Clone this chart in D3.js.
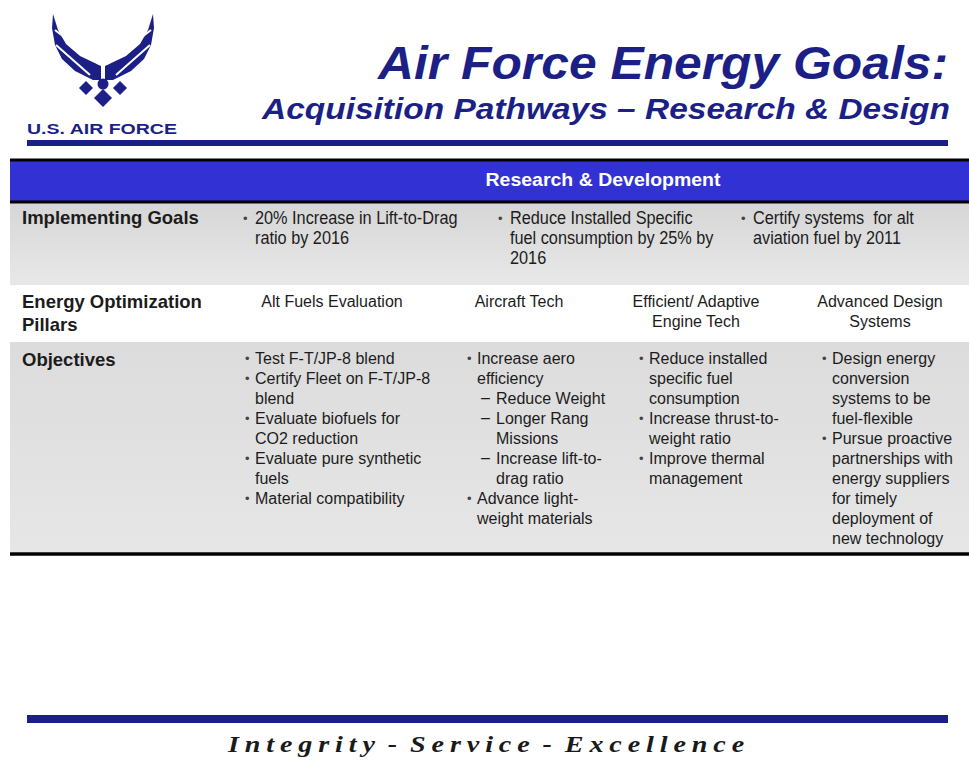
<!DOCTYPE html>
<html>
<head>
<meta charset="utf-8">
<title>Air Force Energy Goals</title>
<style type="text/css">
  body { margin: 0; background: white; }
  svg text { font-family: "Liberation Sans", Arial, sans-serif; white-space: pre; }
</style>
</head>
<body>
<div class="container"></div>
<script src="https://d3js.org/d3.v7.min.js"></script>
<script type="text/javascript">
var wd = 969, ht = 761

// ---- slide content ----
var title = "Air Force Energy Goals:"
var subtitle = "Acquisition Pathways \u2013 Research & Design"
var headerText = "Research & Development"
var rowLabels = [["Implementing Goals"], ["Energy Optimization", "Pillars"], ["Objectives"]]
var goals = [
  ["20% Increase in Lift-to-Drag", "ratio by 2016"],
  ["Reduce Installed Specific", "fuel consumption by 25% by", "2016"],
  ["Certify systems  for alt", "aviation fuel by 2011"]
]
var pillars = [["Alt Fuels Evaluation"], ["Aircraft Tech"], ["Efficient/ Adaptive", "Engine Tech"], ["Advanced Design", "Systems"]]
var objectives = [
  [ {lvl: 1, lines: ["Test F-T/JP-8 blend"]},
    {lvl: 1, lines: ["Certify Fleet on F-T/JP-8", "blend"]},
    {lvl: 1, lines: ["Evaluate biofuels for", "CO2 reduction"]},
    {lvl: 1, lines: ["Evaluate pure synthetic", "fuels"]},
    {lvl: 1, lines: ["Material compatibility"]} ],
  [ {lvl: 1, lines: ["Increase aero", "efficiency"]},
    {lvl: 2, lines: ["Reduce Weight"]},
    {lvl: 2, lines: ["Longer Rang", "Missions"]},
    {lvl: 2, lines: ["Increase lift-to-", "drag ratio"]},
    {lvl: 1, lines: ["Advance light-", "weight materials"]} ],
  [ {lvl: 1, lines: ["Reduce installed", "specific fuel", "consumption"]},
    {lvl: 1, lines: ["Increase thrust-to-", "weight ratio"]},
    {lvl: 1, lines: ["Improve thermal", "management"]} ],
  [ {lvl: 1, lines: ["Design energy", "conversion", "systems to be", "fuel-flexible"]},
    {lvl: 1, lines: ["Pursue proactive", "partnerships with", "energy suppliers", "for timely", "deployment of", "new technology"]} ]
]
var motto = "Integrity - Service - Excellence"
var logoText = "U.S. AIR FORCE"

var navy = "#1b1f86", band = "#3232d4", ink = "#1c1c1c"

var svgCont = d3.select(".container").append("svg")
  .attr("width", wd).attr("height", ht)

svgCont.append("rect").attr("width", wd).attr("height", ht).attr("fill", "white")

var defs = svgCont.append("defs")
function grad(id, c1, c2) {
  var g = defs.append("linearGradient").attr("id", id).attr("x1", 0).attr("y1", 0).attr("x2", 0).attr("y2", 1)
  g.append("stop").attr("offset", "0%").attr("stop-color", c1)
  g.append("stop").attr("offset", "100%").attr("stop-color", c2)
}
grad("g1", "#d6d6d6", "#e8e8e8")
grad("g3", "#dcdcdc", "#e6e6e6")

// line height scale (line index -> offset)
var lineY = d3.scaleLinear().domain([0, 1]).range([0, 20])

// ---- logo ----
var logo = svgCont.append("g")
var wingL = [[53,14],[58,30],[66,44],[80,56],[101,66],[101,80],[93,80],[75,71],[62,59],[55,45],[52,28]]
var mirror = function(p) { return [206 - p[0], p[1]] }
logo.append("path").attr("d", d3.line()(wingL) + "Z").attr("fill", navy)
logo.append("path").attr("d", d3.line()(wingL.map(mirror)) + "Z").attr("fill", navy)
var stripes = [[[55,30],[99,64]], [[56,45],[90,75]]]
stripes.forEach(function(s) {
  logo.append("path").attr("d", d3.line()(s)).attr("stroke", "white").attr("stroke-width", 2)
  logo.append("path").attr("d", d3.line()(s.map(mirror))).attr("stroke", "white").attr("stroke-width", 2)
})
function diamond(cx, cy, r) {
  return d3.line()([[cx, cy - r], [cx + r, cy], [cx, cy + r], [cx - r, cy]]) + "Z"
}
logo.append("path").attr("d", diamond(86, 88, 7)).attr("fill", navy)
logo.append("path").attr("d", diamond(120, 88, 7)).attr("fill", navy)
logo.append("circle").attr("cx", 103).attr("cy", 84).attr("r", 5.5).attr("fill", navy)
logo.append("path").attr("d", diamond(103, 98, 9)).attr("fill", navy)
logo.append("text").attr("x", 27).attr("y", 134).text(logoText)
  .attr("fill", navy).style("font-weight", "bold").style("font-size", "14px")
  .attr("textLength", 150).attr("lengthAdjust", "spacingAndGlyphs")

// ---- titles ----
svgCont.append("text").attr("x", 948).attr("y", 79).text(title)
  .attr("text-anchor", "end").attr("fill", navy)
  .style("font-weight", "bold").style("font-style", "italic").style("font-size", "46px")
  .attr("textLength", 570).attr("lengthAdjust", "spacingAndGlyphs")
svgCont.append("text").attr("x", 950).attr("y", 119).text(subtitle)
  .attr("text-anchor", "end").attr("fill", navy)
  .style("font-weight", "bold").style("font-style", "italic").style("font-size", "30px")
  .attr("textLength", 688).attr("lengthAdjust", "spacingAndGlyphs")

svgCont.append("rect").attr("x", 27).attr("y", 140).attr("width", 921).attr("height", 6).attr("fill", navy)

// ---- table ----
var tx0 = 10, tx1 = wd
svgCont.append("rect").attr("x", tx0).attr("y", 203).attr("width", tx1 - tx0).attr("height", 82).attr("fill", "url(#g1)")
svgCont.append("rect").attr("x", tx0).attr("y", 342).attr("width", tx1 - tx0).attr("height", 210).attr("fill", "url(#g3)")

svgCont.append("rect").attr("x", tx0).attr("y", 159).attr("width", tx1 - tx0).attr("height", 44).attr("fill", band)
svgCont.append("line").attr("x1", tx0).attr("x2", tx1).attr("y1", 160).attr("y2", 160).attr("stroke", "black").attr("stroke-width", 3)
svgCont.append("line").attr("x1", tx0).attr("x2", tx1).attr("y1", 202).attr("y2", 202).attr("stroke", "black").attr("stroke-width", 3)
svgCont.append("line").attr("x1", tx0).attr("x2", tx1).attr("y1", 554).attr("y2", 554).attr("stroke", "black").attr("stroke-width", 3.5)

svgCont.append("text").attr("x", 603).attr("y", 186).text(headerText)
  .attr("text-anchor", "middle").attr("fill", "white")
  .style("font-weight", "bold").style("font-size", "18px")
  .attr("textLength", 235).attr("lengthAdjust", "spacingAndGlyphs")

// row labels
var rowBase = d3.scaleOrdinal().domain(d3.range(3)).range([224, 308, 366])
rowLabels.forEach(function(lab, r) {
  svgCont.append("g").selectAll("text").data(lab).join("text")
    .attr("x", 22).attr("y", function(d, i) { return rowBase(r) + lineY(i) + (i ? 3 : 0) })
    .text(function(d) { return d })
    .attr("fill", ink).style("font-weight", "bold").style("font-size", "18.5px")
})

// goals row (narrow type)
var goalX = d3.scaleOrdinal().domain(d3.range(3)).range([243, 498, 741])
goals.forEach(function(lines, c) {
  var g = svgCont.append("g").attr("transform", "translate(" + goalX(c) + ",0)")
  g.append("text").attr("x", 0).attr("y", 223).text("\u2022").attr("fill", "#444").style("font-size", "13px")
  g.append("g").attr("transform", "translate(12,0) scale(0.88,1)")
    .selectAll("text").data(lines).join("text")
    .attr("x", 0).attr("y", function(d, i) { return 224 + lineY(i) })
    .text(function(d) { return d })
    .attr("fill", ink).style("font-size", "18.5px")
})

// pillars row
var pillarX = d3.scaleOrdinal().domain(d3.range(4)).range([332, 519, 696, 880])
pillars.forEach(function(lines, c) {
  svgCont.append("g").selectAll("text").data(lines).join("text")
    .attr("x", pillarX(c)).attr("y", function(d, i) { return 307 + lineY(i) })
    .attr("text-anchor", "middle")
    .text(function(d) { return d })
    .attr("fill", ink).style("font-size", "16px")
})

// objectives row
var objX = d3.scaleOrdinal().domain(d3.range(4)).range([245, 467, 639, 822])
objectives.forEach(function(items, c) {
  var g = svgCont.append("g")
  var n = 0
  items.forEach(function(it) {
    var bx = objX(c) + (it.lvl === 2 ? 14 : 0)
    var txx = objX(c) + (it.lvl === 2 ? 29 : 10)
    g.append("text").attr("x", bx).attr("y", 363 + lineY(n))
      .text(it.lvl === 2 ? "\u2013" : "\u2022")
      .attr("fill", it.lvl === 2 ? ink : "#444").style("font-size", it.lvl === 2 ? "16px" : "13px")
    it.lines.forEach(function(l, i) {
      g.append("text").attr("x", txx).attr("y", 364 + lineY(n + i)).text(l)
        .attr("fill", ink).style("font-size", "16px")
    })
    n += it.lines.length
  })
})

// ---- footer ----
svgCont.append("rect").attr("x", 27).attr("y", 715).attr("width", 921).attr("height", 8).attr("fill", navy)
svgCont.append("text").attr("x", 228).attr("y", 752).text(motto)
  .attr("fill", "#1a1a1a")
  .style("font-family", "'Liberation Serif', 'DejaVu Serif', serif")
  .style("font-weight", "bold").style("font-style", "italic").style("font-size", "24px")
  .style("letter-spacing", "5px").style("word-spacing", "-5px")
  .attr("textLength", 522).attr("lengthAdjust", "spacingAndGlyphs")
</script>
</body>
</html>
